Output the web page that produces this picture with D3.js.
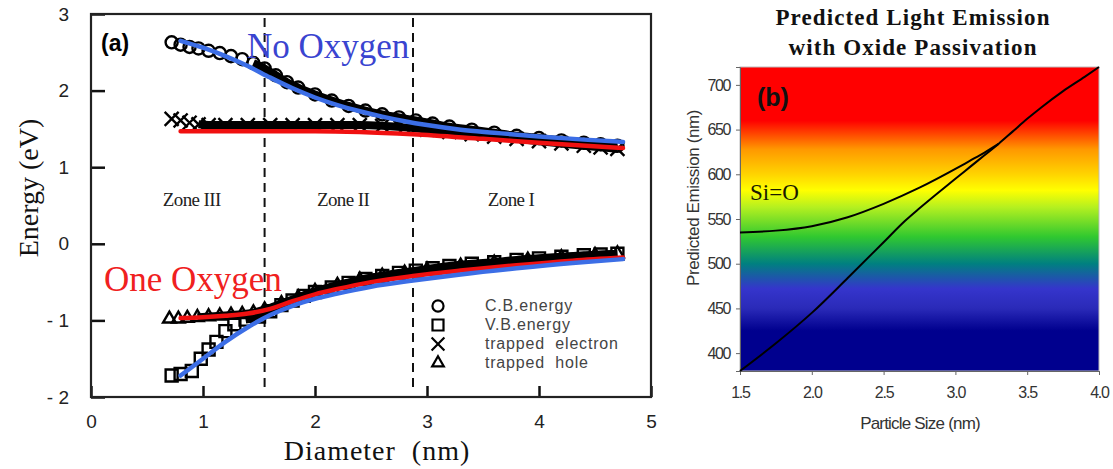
<!DOCTYPE html>
<html>
<head>
<meta charset="utf-8">
<script src="https://cdn.jsdelivr.net/npm/d3@7"></script>
<style>
  body { margin: 0; background: #fff; }
  svg { display: block; }
</style>
</head>
<body>
<div id="chart"></div>
<script>
// ---- panel (a) data: energy vs diameter ----
const cbDiameter = [0.72, 0.8, 0.88, 0.96, 1.05, 1.15, 1.25, 1.35, 1.45, 1.55, 1.65, 1.75, 1.85, 2.0, 2.15, 2.3, 2.45, 2.6, 2.75, 2.9, 3.05, 3.2, 3.4, 3.6, 3.8, 4.0, 4.2, 4.4, 4.55, 4.7]
const cbEnergy   = [2.63, 2.6, 2.57, 2.55, 2.52, 2.49, 2.45, 2.41, 2.36, 2.29, 2.2, 2.11, 2.04, 1.95, 1.87, 1.8, 1.74, 1.69, 1.65, 1.61, 1.57, 1.53, 1.49, 1.45, 1.41, 1.38, 1.35, 1.32, 1.3, 1.28]

const vbDiameter = [0.72, 0.8, 0.9, 0.98, 1.05, 1.12, 1.2, 1.28, 1.38, 1.5, 1.6, 1.7, 1.8, 1.9, 2.0, 2.15, 2.3, 2.45, 2.6, 2.75, 2.9, 3.05, 3.2, 3.4, 3.6, 3.8, 4.0, 4.2, 4.4, 4.55, 4.7]
const vbEnergy   = [-1.72, -1.7, -1.66, -1.5, -1.38, -1.28, -1.14, -1.05, -0.99, -0.95, -0.88, -0.8, -0.74, -0.68, -0.63, -0.57, -0.51, -0.46, -0.42, -0.38, -0.35, -0.32, -0.29, -0.26, -0.24, -0.21, -0.19, -0.17, -0.15, -0.14, -0.13]

const electronDiameter = [0.72, 0.8, 0.88, 0.96, 1.05, 1.2, 1.4, 1.6, 1.8, 2.0, 2.2, 2.4, 2.6, 2.8, 3.0, 3.2, 3.4, 3.6, 3.8, 4.0, 4.2, 4.4, 4.55, 4.7]
const electronEnergy   = [1.63, 1.61, 1.58, 1.56, 1.55, 1.55, 1.55, 1.55, 1.55, 1.55, 1.55, 1.55, 1.54, 1.52, 1.49, 1.46, 1.43, 1.4, 1.37, 1.34, 1.31, 1.28, 1.26, 1.24]

const holeDiameter = [0.7, 0.78, 0.86, 0.95, 1.05, 1.15, 1.25, 1.35, 1.45, 1.55, 1.7, 1.85, 2.0, 2.2, 2.4, 2.6, 2.8, 3.0, 3.3, 3.6, 3.9, 4.2, 4.5, 4.7]
const holeEnergy   = [-0.98, -0.98, -0.97, -0.96, -0.95, -0.94, -0.93, -0.92, -0.9, -0.86, -0.78, -0.7, -0.62, -0.54, -0.47, -0.42, -0.38, -0.34, -0.29, -0.25, -0.21, -0.18, -0.15, -0.13]

// fitted curves
const blueUpperX = [0.8, 1.0, 1.2, 1.4, 1.6, 1.8, 2.0, 2.2, 2.4, 2.6, 2.8, 3.0, 3.3, 3.6, 4.0, 4.4, 4.75]
const blueUpperY = [2.65, 2.56, 2.45, 2.32, 2.17, 2.03, 1.91, 1.81, 1.73, 1.66, 1.6, 1.55, 1.49, 1.45, 1.4, 1.36, 1.33]
const redUpperX  = [0.8, 1.2, 1.6, 2.0, 2.4, 2.875, 3.5, 4.1, 4.75]
const redUpperY  = [1.47, 1.47, 1.47, 1.47, 1.46, 1.43, 1.37, 1.31, 1.25]
const blueLowerX = [0.8, 1.0, 1.2, 1.4, 1.6, 1.8, 2.0, 2.2, 2.5, 2.875, 3.3, 3.8, 4.3, 4.75]
const blueLowerY = [-1.72, -1.5, -1.28, -1.09, -0.93, -0.81, -0.72, -0.65, -0.56, -0.48, -0.4, -0.32, -0.25, -0.2]
const redLowerX  = [0.8, 1.0, 1.2, 1.4, 1.6, 1.8, 2.0, 2.2, 2.5, 2.875, 3.3, 3.8, 4.3, 4.75]
const redLowerY  = [-0.97, -0.96, -0.94, -0.91, -0.85, -0.75, -0.66, -0.59, -0.5, -0.42, -0.35, -0.28, -0.22, -0.18]

const zoneBounds = [1.55, 2.875]
const zoneLabels = ["Zone III", "Zone II", "Zone I"]
const zoneCenters = [0.9, 2.25, 3.75]
const legendLabels = ["C.B.energy", "V.B.energy", "trapped  electron", "trapped  hole"]
const legendSymbols = ["circle", "square", "cross", "triangle"]
const xTicksA = [0, 1, 2, 3, 4, 5]
const yTicksA = [-2, -1, 0, 1, 2, 3]

// ---- panel (b) data: emission vs particle size ----
const sizeNoOx  = [1.5, 1.75, 2.0, 2.25, 2.5, 2.65, 2.75, 3.0, 3.1, 3.2, 3.3, 3.4, 3.5, 3.6, 3.75, 3.9, 4.0]
const emitNoOx  = [380, 411, 445, 484, 524, 548, 562, 595, 608, 621, 634, 648, 662, 675, 693, 709, 720]
const sizeSiO   = [1.5, 1.75, 2.0, 2.25, 2.5, 2.75, 3.0, 3.1, 3.2, 3.3]
const emitSiO   = [535, 537, 542, 552, 567, 585, 606, 615, 624, 634]
const spectrumNm    = [720, 660, 628, 600, 582, 563, 530, 500, 472, 450, 425, 380]
const spectrumColor = ["#ff0000", "#ff0000", "#ff9800", "#ffd400", "#ffff00", "#b4f020", "#30c830", "#008080", "#3535cc", "#2a2ab8", "#00008e", "#00008e"]
const xTicksB = [1.5, 2.0, 2.5, 3.0, 3.5, 4.0]
const yTicksB = [400, 450, 500, 550, 600, 650, 700]

const W = 1113, H = 469
const svg = d3.select("#chart").append("svg")
  .attr("width", W).attr("height", H)

const serif = "'Liberation Serif', 'Times New Roman', serif"
const sans = "'Liberation Sans', Arial, sans-serif"

// ================= panel (a) =================
const xA = d3.scaleLinear().domain([0, 5]).range([91, 651])
const yA = d3.scaleLinear().domain([-2, 3]).range([397, 14])

const gA = svg.append("g")

// ticks (inward)
const xAxisA = gA.append("g")
  .attr("transform", "translate(0," + yA(-2) + ")")
  .call(d3.axisBottom(xA).tickValues(xTicksA).tickSizeInner(-11).tickSizeOuter(0).tickPadding(18).tickFormat(d3.format("d")))
xAxisA.select(".domain").remove()
xAxisA.selectAll("line").attr("stroke", "#111").attr("stroke-width", 2.5)
xAxisA.selectAll("text").attr("font-family", sans).attr("font-size", 19).attr("fill", "#222")

const yAxisA = gA.append("g")
  .attr("transform", "translate(" + xA(0) + ",0)")
  .call(d3.axisLeft(yA).tickValues(yTicksA).tickSizeInner(-14).tickSizeOuter(0).tickPadding(22)
    .tickFormat(d => d < 0 ? "- " + Math.abs(d) : d))
yAxisA.select(".domain").remove()
yAxisA.selectAll("line").attr("stroke", "#111").attr("stroke-width", 2.5)
yAxisA.selectAll("text").attr("font-family", sans).attr("font-size", 19).attr("fill", "#222")

// frame
gA.append("rect")
  .attr("x", xA(0)).attr("y", yA(3))
  .attr("width", xA(5) - xA(0)).attr("height", yA(-2) - yA(3))
  .attr("fill", "none").attr("stroke", "#222").attr("stroke-width", 2.2)

// zone dividers
gA.selectAll(".zoneline").data(zoneBounds).enter().append("line")
  .attr("x1", d => xA(d)).attr("x2", d => xA(d))
  .attr("y1", yA(3) + 4).attr("y2", yA(-2) - 8)
  .attr("stroke", "#111").attr("stroke-width", 2).attr("stroke-dasharray", "9,6")

gA.selectAll(".zonetext").data(zoneLabels).enter().append("text")
  .attr("x", (d, i) => xA(zoneCenters[i])).attr("y", 206)
  .attr("text-anchor", "middle")
  .attr("font-family", serif).attr("font-size", 19).attr("fill", "#222")
  .attr("letter-spacing", -0.6)
  .text(d => d)

// data bands (dense markers merge into a thick band)
const bandLine = d3.line().x(d => xA(d[0])).y(d => yA(d[1])).curve(d3.curveMonotoneX)
const series = [
  {x: cbDiameter, y: cbEnergy, sym: "circle", from: 1.4},
  {x: electronDiameter, y: electronEnergy, sym: "cross", from: 0.9},
  {x: vbDiameter, y: vbEnergy, sym: "square", from: 1.3},
  {x: holeDiameter, y: holeEnergy, sym: "triangle", from: 0.9}
]

function symbolPath(sym, size) {
  const s = size
  if (sym === "circle") return d3.symbol(d3.symbolCircle, s * s * 0.8)()
  if (sym === "square") return d3.symbol(d3.symbolSquare, s * s)()
  if (sym === "cross") return d3.symbol(d3.symbolTimes, s * s * 0.9)()
  return d3.symbol(d3.symbolTriangle2, s * s * 0.8)()
}

series.forEach(s => {
  const pts = s.x.map((v, i) => [v, s.y[i]])
  gA.append("path")
    .attr("d", bandLine(pts.filter(p => p[0] >= s.from)))
    .attr("fill", "none").attr("stroke", "#000").attr("stroke-width", 8)
  gA.append("g").selectAll("path").data(pts).enter().append("path")
    .attr("transform", d => "translate(" + xA(d[0]) + "," + yA(d[1]) + ")")
    .attr("d", symbolPath(s.sym, 12))
    .attr("fill", "none").attr("stroke", "#000").attr("stroke-width", 2.4)
})

// fitted lines
const fitLine = d3.line().x(d => xA(d[0])).y(d => yA(d[1])).curve(d3.curveMonotoneX)
const fits = [
  {x: redUpperX, y: redUpperY, color: "#f01010"},
  {x: redLowerX, y: redLowerY, color: "#f01010"},
  {x: blueUpperX, y: blueUpperY, color: "#3c6ee6"},
  {x: blueLowerX, y: blueLowerY, color: "#3c6ee6"}
]
fits.forEach(f => {
  gA.append("path")
    .attr("d", fitLine(f.x.map((v, i) => [v, f.y[i]])))
    .attr("fill", "none").attr("stroke", f.color).attr("stroke-width", 4.5)
    .attr("stroke-linecap", "round")
})

// legend
const legend = gA.append("g")
legendLabels.forEach((lab, i) => {
  const cy = 306 + i * 19
  legend.append("path")
    .attr("transform", "translate(438," + cy + ")")
    .attr("d", symbolPath(legendSymbols[i], 11))
    .attr("fill", "none").attr("stroke", "#000").attr("stroke-width", 2.2)
  legend.append("text")
    .attr("x", 485).attr("y", cy + 5)
    .attr("font-family", sans).attr("font-size", 16).attr("fill", "#444")
    .attr("letter-spacing", 0.8)
    .style("white-space", "pre")
    .text(lab)
})

// annotations
gA.append("text").attr("x", 101).attr("y", 51)
  .attr("font-family", sans).attr("font-weight", "bold").attr("font-size", 23).attr("fill", "#000")
  .text("(a)")
gA.append("text").attr("x", 247).attr("y", 58)
  .attr("font-family", serif).attr("font-size", 35).attr("fill", "#3a44d0")
  .text("No Oxygen")
gA.append("text").attr("x", 104).attr("y", 291)
  .attr("font-family", serif).attr("font-size", 35).attr("fill", "#f02020")
  .text("One Oxygen")

// axis titles
gA.append("text")
  .attr("transform", "translate(38,188) rotate(-90)")
  .attr("text-anchor", "middle")
  .attr("font-family", serif).attr("font-size", 28).attr("fill", "#111")
  .text("Energy (eV)")
gA.append("text")
  .attr("x", 377).attr("y", 460)
  .attr("text-anchor", "middle")
  .attr("font-family", serif).attr("font-size", 28).attr("fill", "#111")
  .attr("letter-spacing", 1)
  .style("white-space", "pre")
  .text("Diameter  (nm)")

// ================= panel (b) =================
const xB = d3.scaleLinear().domain([1.5, 4.0]).range([740, 1099])
const yB = d3.scaleLinear().domain([380, 720]).range([371, 67])
const gB = svg.append("g")

const defs = svg.append("defs")
const grad = defs.append("linearGradient")
  .attr("id", "spectrum").attr("gradientUnits", "userSpaceOnUse")
  .attr("x1", 0).attr("x2", 0).attr("y1", yB(720)).attr("y2", yB(380))
spectrumNm.forEach((nm, i) => {
  grad.append("stop")
    .attr("offset", (yB(nm) - yB(720)) / (yB(380) - yB(720)))
    .attr("stop-color", spectrumColor[i])
})

gB.append("rect")
  .attr("x", xB(1.5)).attr("y", yB(720))
  .attr("width", xB(4.0) - xB(1.5)).attr("height", yB(380) - yB(720))
  .attr("fill", "url(#spectrum)")
  .attr("stroke", "#bbb").attr("stroke-width", 1)

const xAxisB = gB.append("g")
  .attr("transform", "translate(0," + yB(380) + ")")
  .call(d3.axisBottom(xB).tickValues(xTicksB).tickSize(4).tickPadding(12).tickFormat(d3.format(".1f")))
xAxisB.select(".domain").attr("stroke", "#666")
xAxisB.selectAll("line").attr("stroke", "#666")
xAxisB.selectAll("text").attr("font-family", sans).attr("font-size", 16).attr("fill", "#333").attr("letter-spacing", -1.2)

const yAxisB = gB.append("g")
  .attr("transform", "translate(" + xB(1.5) + ",0)")
  .call(d3.axisLeft(yB).tickValues(yTicksB).tickSize(4).tickPadding(6))
yAxisB.select(".domain").attr("stroke", "#666")
yAxisB.selectAll("line").attr("stroke", "#666")
yAxisB.selectAll("text").attr("font-family", sans).attr("font-size", 16).attr("fill", "#333").attr("letter-spacing", -1.4)

const emitLine = d3.line().x(d => xB(d[0])).y(d => yB(d[1])).curve(d3.curveMonotoneX)
gB.append("path")
  .attr("d", emitLine(sizeNoOx.map((v, i) => [v, emitNoOx[i]])))
  .attr("fill", "none").attr("stroke", "#000").attr("stroke-width", 2)
gB.append("path")
  .attr("d", emitLine(sizeSiO.map((v, i) => [v, emitSiO[i]])))
  .attr("fill", "none").attr("stroke", "#000").attr("stroke-width", 2)

gB.append("text").attr("x", 757).attr("y", 106)
  .attr("font-family", sans).attr("font-weight", "bold").attr("font-size", 25).attr("fill", "#111")
  .text("(b)")
gB.append("text").attr("x", 750).attr("y", 200)
  .attr("font-family", serif).attr("font-size", 23).attr("fill", "#1a1a00")
  .text("Si=O")

// titles
gB.append("text").attr("x", 913).attr("y", 25)
  .attr("text-anchor", "middle")
  .attr("font-family", serif).attr("font-weight", "bold").attr("font-size", 23).attr("fill", "#111")
  .attr("letter-spacing", 1.1)
  .text("Predicted Light Emission")
gB.append("text").attr("x", 913).attr("y", 55)
  .attr("text-anchor", "middle")
  .attr("font-family", serif).attr("font-weight", "bold").attr("font-size", 23).attr("fill", "#111")
  .attr("letter-spacing", 1.1)
  .text("with Oxide Passivation")

gB.append("text")
  .attr("transform", "translate(699,198) rotate(-90)")
  .attr("text-anchor", "middle")
  .attr("font-family", sans).attr("font-size", 17).attr("fill", "#333").attr("letter-spacing", -0.4)
  .text("Predicted Emission (nm)")
gB.append("text")
  .attr("x", 920).attr("y", 429)
  .attr("text-anchor", "middle")
  .attr("font-family", sans).attr("font-size", 17).attr("fill", "#333").attr("letter-spacing", -0.8)
  .text("Particle Size (nm)")
</script>
</body>
</html>
